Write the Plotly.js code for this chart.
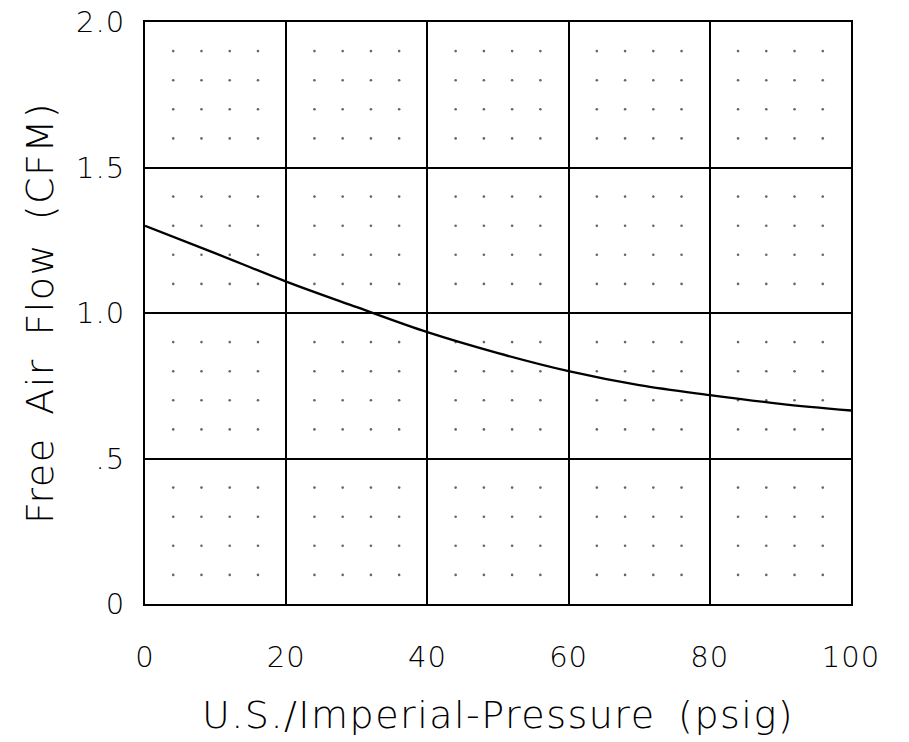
<!DOCTYPE html>
<html>
<head>
<meta charset="utf-8">
<script src="https://cdn.plot.ly/plotly-3.0.1.min.js"></script>
<style>
html,body{margin:0;padding:0;background:#fff;}
#chart{width:909px;height:742px;}
.g-xtitle text, .g-ytitle text{letter-spacing:1.5px; word-spacing:9px;}
.xtick text, .ytick text{letter-spacing:1px;}
</style>
</head>
<body>
<div id="chart"></div>
<script>
// Data
const pressure = [0, 10, 20, 30, 40, 50, 60, 70, 80, 90, 100];
const airFlow = [1.30, 1.205, 1.108, 1.02, 0.934, 0.862, 0.800, 0.752, 0.718, 0.688, 0.665];

const xTickVals = [0, 20, 40, 60, 80, 100];
const xTickText = ["0", "20", "40", "60", "80", "100"];
const yTickVals = [0, 0.5, 1.0, 1.5, 2.0];
const yTickText = ["0", ".5", "1.0", "1.5", "2.0"];

// Minor dot lattice steps
const xMinorStep = 4;
const yMinorStep = 0.1;

const dotX = [], dotY = [];
for (let i = 0; i <= 25; i++) {
  const xv = i * xMinorStep;
  if (xv % 20 === 0) continue;
  for (let j = 0; j <= 20; j++) {
    if (j % 5 === 0) continue;
    dotX.push(xv);
    dotY.push(+(j * yMinorStep).toFixed(2));
  }
}

const font = "'DejaVu Sans Light', 'DejaVu Sans', sans-serif";

const traces = [
  {
    x: dotX, y: dotY, type: "scatter", mode: "markers",
    marker: {size: 2.6, color: "#666"}, hoverinfo: "skip", showlegend: false
  },
  {
    x: pressure, y: airFlow, type: "scatter", mode: "lines",
    line: {color: "#000", width: 2.3, shape: "spline", smoothing: 1},
    showlegend: false
  }
];

const layout = {
  width: 909, height: 742,
  margin: {l: 145, r: 58, t: 22, b: 138},
  paper_bgcolor: "#fff", plot_bgcolor: "#fff",
  font: {family: font, color: "#000", weight: 200},
  showlegend: false,
  xaxis: {
    range: [0, 100], tickvals: xTickVals, ticktext: xTickText,
    showgrid: true, gridcolor: "#000", gridwidth: 2,
    zeroline: false, showline: true, linecolor: "#000", linewidth: 2, mirror: true,
    ticks: "", ticklabelstandoff: 26,
    tickfont: {family: font, size: 29, color: "#000", weight: 200},
    title: {text: "U.S./Imperial-Pressure (psig)", font: {family: font, size: 38, color: "#000", weight: 200}, standoff: 29},
    fixedrange: true
  },
  yaxis: {
    range: [0, 2.0], tickvals: yTickVals, ticktext: yTickText,
    showgrid: true, gridcolor: "#000", gridwidth: 2,
    zeroline: false, showline: true, linecolor: "#000", linewidth: 2, mirror: true,
    ticks: "", ticklabelstandoff: 12,
    tickfont: {family: font, size: 29, color: "#000", weight: 200},
    title: {text: "Free Air Flow (CFM)", font: {family: font, size: 38, color: "#000", weight: 200}, standoff: 11},
    fixedrange: true
  }
};

Plotly.newPlot("chart", traces, layout, {displayModeBar: false, staticPlot: true});
</script>
</body>
</html>
